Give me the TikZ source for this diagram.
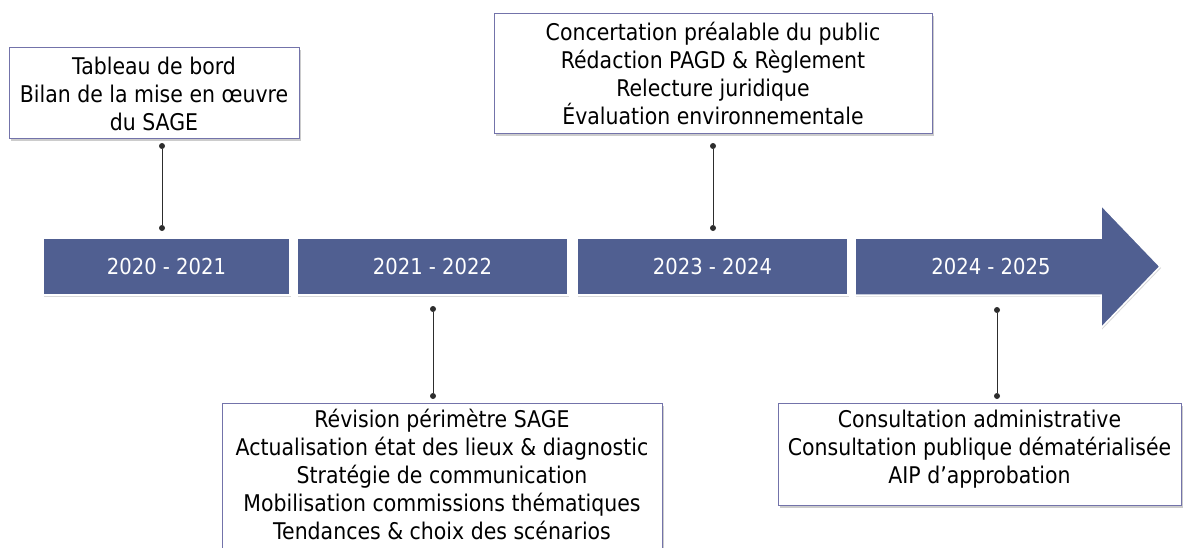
\documentclass[tikz,border=0pt]{standalone}
\usepackage{fontspec}
\setmainfont{DejaVu Sans}[FakeStretch=0.89]
\usetikzlibrary{shadows}
\definecolor{barblue}{RGB}{80,95,145}
\definecolor{boxline}{RGB}{115,115,170}
\definecolor{connc}{RGB}{45,45,45}
\begin{document}
\begin{tikzpicture}[x=1pt,y=-1pt,
  infobox/.style={draw=boxline, line width=0.9pt, fill=white, inner sep=0pt,
    drop shadow={shadow xshift=2pt, shadow yshift=-2.5pt, opacity=0.4}},
  seg/.style={fill=barblue, draw=white, line width=1.5pt, inner sep=0pt,
    drop shadow={shadow xshift=1pt, shadow yshift=-1.5pt, opacity=0.3}},
  year/.style={text=white, font=\fontsize{22}{26}\selectfont, inner sep=0pt},
  txt/.style={align=center, font=\fontsize{23}{28}\selectfont, inner sep=0pt},
  dot/.style={circle, fill=connc, inner sep=0pt, minimum size=6pt},
  conn/.style={draw=connc, line width=1pt}]
\useasboundingbox (0,0) rectangle (1184,547);
\clip (0,0) rectangle (1184,547);

% timeline bar
\node[seg, minimum width=247pt, minimum height=57pt] (s1) at (166.5,266.5) {};
\node[seg, minimum width=271pt, minimum height=57pt] (s2) at (432.5,266.5) {};
\node[seg, minimum width=271pt, minimum height=57pt] (s3) at (712.5,266.5) {};
\path[seg] (855,238) -- (1101,238) -- (1101,205) -- (1160,266.5) -- (1101,328) -- (1101,295) -- (855,295) -- cycle;
\node[year] (y1) at (s1) {2020 - 2021};
\node[year] (y2) at (s2) {2021 - 2022};
\node[year] (y3) at (s3) {2023 - 2024};
\node[year] (y4) at (991,266.5) {2024 - 2025};

% boxes
\node[infobox, minimum width=290pt, minimum height=91pt] (b1) at (154,92.5) {};
\node[txt] (t1) at (154,93.5) {Tableau de bord\\Bilan de la mise en œuvre\\du SAGE};

\node[infobox, minimum width=438pt, minimum height=120pt] (b2) at (713,73) {};
\node[txt] (t2) at (713,73) {Concertation préalable du public\\Rédaction PAGD \& Règlement\\Relecture juridique\\Évaluation environnementale};

\node[infobox, minimum width=440pt, minimum height=170pt, anchor=north] (b3) at (442,403) {};
\node[txt] (t3) at (442,474) {Révision périmètre SAGE\\Actualisation état des lieux \& diagnostic\\Stratégie de communication\\Mobilisation commissions thématiques\\Tendances \& choix des scénarios};

\node[infobox, minimum width=403pt, minimum height=102pt] (b4) at (979.5,454) {};
\node[txt] (t4) at (979.5,449) {Consultation administrative\\Consultation publique dématérialisée\\AIP d’approbation};

% connectors
\node[dot] (c1a) at (162,146) {};
\node[dot] (c1b) at (162,228) {};
\draw[conn] (c1a) -- (c1b);
\node[dot] (c2a) at (713,146) {};
\node[dot] (c2b) at (713,228) {};
\draw[conn] (c2a) -- (c2b);
\node[dot] (c3a) at (433,309) {};
\node[dot] (c3b) at (433,396) {};
\draw[conn] (c3a) -- (c3b);
\node[dot] (c4a) at (997,310) {};
\node[dot] (c4b) at (997,396) {};
\draw[conn] (c4a) -- (c4b);
\end{tikzpicture}
\end{document}
